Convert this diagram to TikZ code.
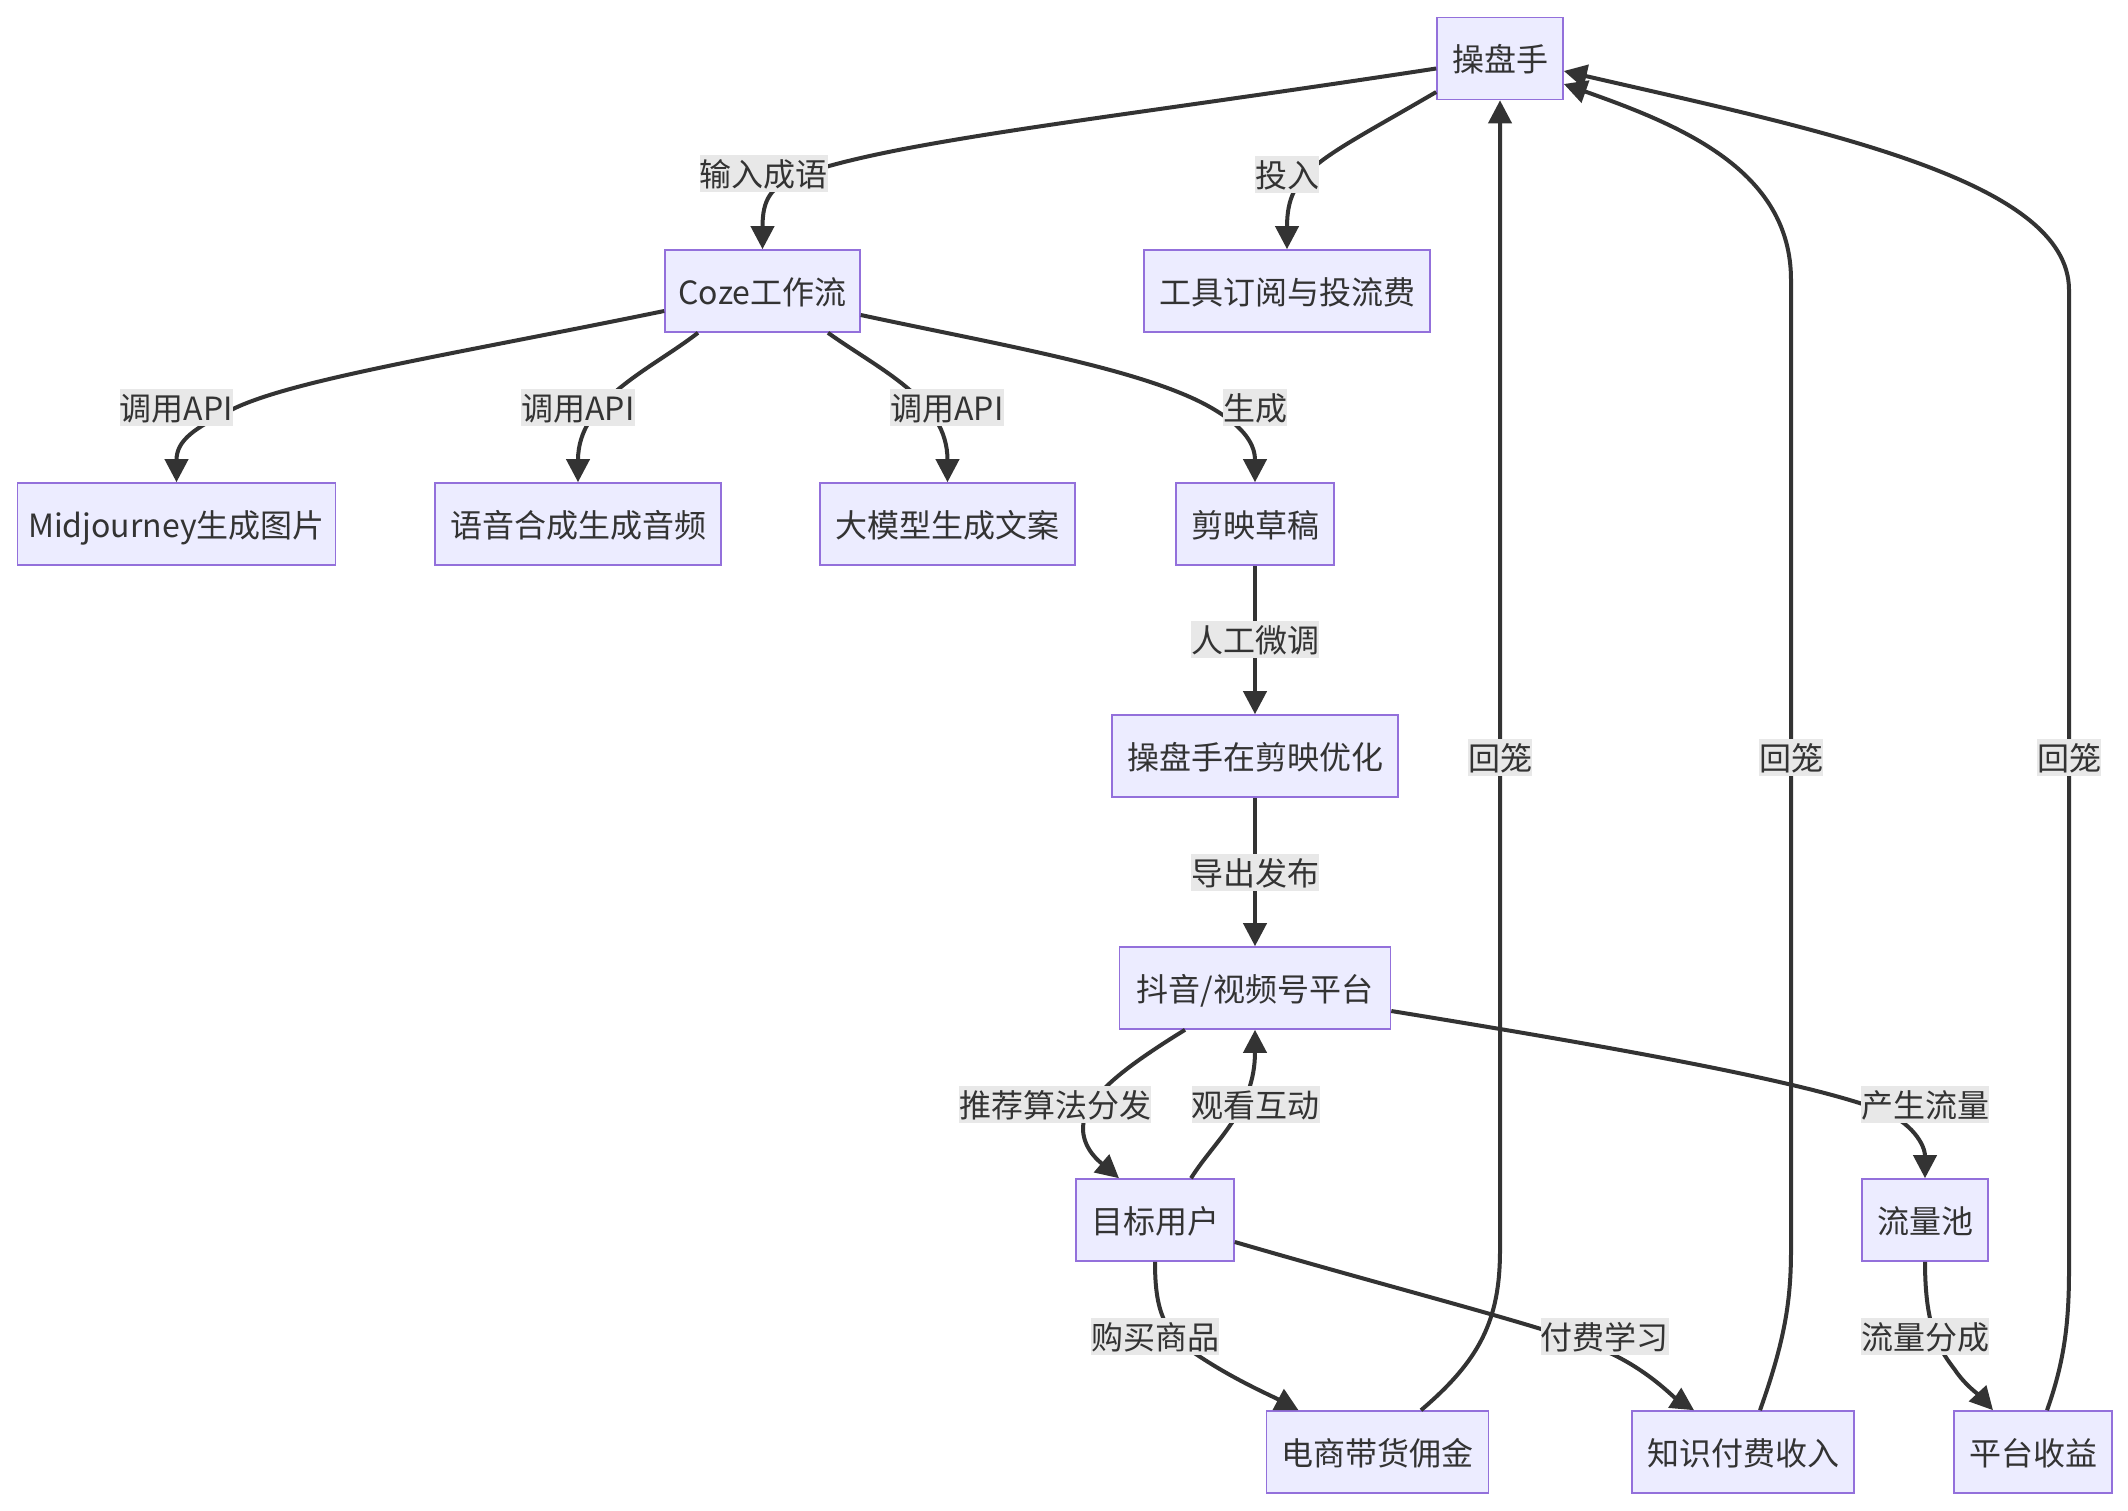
\documentclass[tikz,border=0pt]{standalone}
\usepackage{fontspec}
\setmainfont{Noto Sans CJK SC}
\usetikzlibrary{arrows.meta}
\definecolor{nodefill}{HTML}{ECECFF}
\definecolor{nodeborder}{HTML}{9370DB}
\definecolor{linec}{HTML}{333333}
\definecolor{labelbg}{HTML}{E8E8E8}
\definecolor{textc}{HTML}{333333}
\tikzset{
  box/.style={draw=nodeborder, fill=nodefill, line width=1.6pt, minimum height=82pt, inner sep=0pt, text height=28pt, text depth=2pt, text=textc, font=\fontsize{32pt}{38pt}\selectfont},
  lbl/.style={fill=labelbg, inner xsep=0pt, inner ysep=3.5pt, text height=28pt, text depth=2pt, text=textc, font=\fontsize{32pt}{38pt}\selectfont},
  edge/.style={draw=linec, line width=4pt, -{Triangle[length=23pt,width=23pt]}}
}
\begin{document}
\begin{tikzpicture}[x=1pt,y=-1pt]
\useasboundingbox (0,0) rectangle (2128,1510);
\fill[white] (0,0) rectangle (2128,1510);
% nodes
\node[box, minimum width=126pt] (op) at (1500,58.5) {操盘手};
\node[box, minimum width=195pt] (coze) at (762.5,291) {Coze工作流};
\node[box, minimum width=286pt] (tools) at (1287,291) {工具订阅与投流费};
\node[box, minimum width=318pt] (mj) at (176.5,524) {Midjourney生成图片};
\node[box, minimum width=286pt] (tts) at (578,524) {语音合成生成音频};
\node[box, minimum width=255pt] (llm) at (947.5,524) {大模型生成文案};
\node[box, minimum width=158pt] (draft) at (1255,524) {剪映草稿};
\node[box, minimum width=286pt] (opt) at (1255,756) {操盘手在剪映优化};
\node[box, minimum width=271pt] (plat) at (1255,988) {抖音/视频号平台};
\node[box, minimum width=158pt] (user) at (1155,1220) {目标用户};
\node[box, minimum width=126pt] (pool) at (1925,1220) {流量池};
\node[box, minimum width=222pt] (ec) at (1377.5,1452) {电商带货佣金};
\node[box, minimum width=222pt] (kp) at (1743,1452) {知识付费收入};
\node[box, minimum width=158pt] (rev) at (2033,1452) {平台收益};
% edges
\draw[edge] ([yshift=-10pt]op.west) .. controls (1100,120) and (900,140) .. (800,175) .. controls (770,186) and (762.5,200) .. (coze.north);
\draw[edge] ([yshift=-33.5pt]op.west) .. controls (1320,160) and (1287,170) .. (tools.north);
\draw[edge] ([yshift=-20pt]coze.west) .. controls (450,355) and (290,380) .. (231,410) .. controls (195,428) and (176.5,440) .. (mj.north);
\draw[edge] ([xshift=-64.5pt]coze.south) .. controls (650,370) and (578,400) .. (tts.north);
\draw[edge] ([xshift=65.5pt]coze.south) .. controls (880,370) and (947.5,400) .. (llm.north);
\draw[edge] ([yshift=-24pt]coze.east) .. controls (1000,345) and (1150,370) .. (1215,410) .. controls (1245,428) and (1255,445) .. (draft.north);
\draw[edge] (draft.south) -- (opt.north);
\draw[edge] (opt.south) -- (plat.north);
\draw[edge] ([xshift=-70pt]plat.south) .. controls (1120,1070) and (1082,1100) .. (1083,1130) .. controls (1084,1150) and (1100,1162) .. ([xshift=-36pt]user.north);
\draw[edge] ([xshift=36pt]user.north) .. controls (1215,1140) and (1255,1110) .. (plat.south);
\draw[edge] ([yshift=-23pt]plat.east) .. controls (1600,1045) and (1800,1080) .. (1880,1110) .. controls (1912,1122) and (1925,1145) .. (pool.north);
\draw[edge] (user.south) .. controls (1155,1300) and (1160,1330) .. (1190,1350) .. controls (1230,1378) and (1270,1395) .. ([xshift=-79pt]ec.north);
\draw[edge] ([yshift=-22pt]user.east) .. controls (1400,1290) and (1520,1320) .. (1590,1345) .. controls (1640,1362) and (1672,1396) .. ([xshift=-49pt]kp.north);
\draw[edge] (pool.south) .. controls (1925,1330) and (1940,1350) .. (1955,1370) .. controls (1965,1385) and (1980,1396) .. ([xshift=-40pt]rev.north);
\draw[edge] ([xshift=43.5pt]ec.north) .. controls (1480,1360) and (1500,1320) .. (1500,1250) -- (op.south);
\draw[edge] ([xshift=17pt]kp.north) .. controls (1785,1340) and (1791,1300) .. (1791,1250) -- (1791,280) .. controls (1791,170) and (1680,125) .. ([yshift=-25.5pt]op.east);
\draw[edge] ([xshift=14pt]rev.north) .. controls (2065,1360) and (2069,1320) .. (2069,1270) -- (2069,290) .. controls (2069,180) and (1820,130) .. ([yshift=-12.5pt]op.east);
% labels
\node[lbl] (l1) at (763.5,173) {输入成语};
\node[lbl] (l2) at (1287,174) {投入};
\node[lbl] (l3) at (176.5,407) {调用API};
\node[lbl] (l4) at (578,407) {调用API};
\node[lbl] (l5) at (947,407) {调用API};
\node[lbl] (l6) at (1255,407) {生成};
\node[lbl] (l7) at (1255,639) {人工微调};
\node[lbl] (l8) at (1255,872) {导出发布};
\node[lbl] (l9) at (1055,1104) {推荐算法分发};
\node[lbl] (l10) at (1255.5,1104) {观看互动};
\node[lbl] (l11) at (1925,1104) {产生流量};
\node[lbl] (l12) at (1155,1336) {购买商品};
\node[lbl] (l13) at (1604.5,1336) {付费学习};
\node[lbl] (l14) at (1925,1336) {流量分成};
\node[lbl] (l15) at (1500,757) {回笼};
\node[lbl] (l16) at (1791,757) {回笼};
\node[lbl] (l17) at (2069,757) {回笼};
\end{tikzpicture}
\end{document}
